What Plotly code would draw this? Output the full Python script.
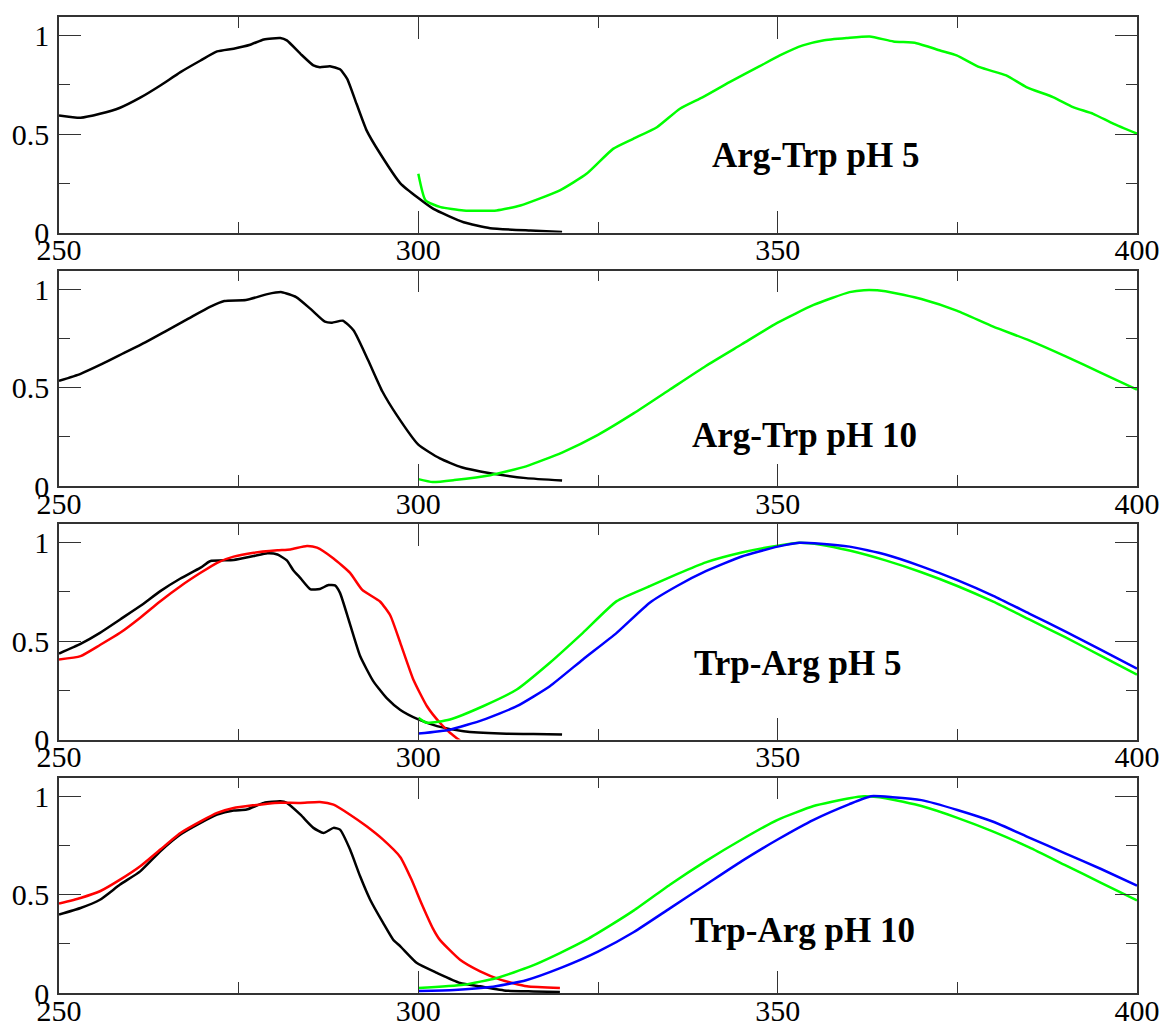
import plotly.graph_objects as go

# ---------------- data ----------------
# Panel 1: Arg-Trp pH 5
p1_abs_x = [250, 253, 255.7, 258.5, 261.3, 264.1, 266.9, 269.7, 272, 274.3, 276.6, 278.5, 280.8, 281.7,
            283.6, 285.4, 286.3, 287.7, 289.1, 290.1, 291.4, 292.8, 294.7, 297.5, 300, 302.1, 306.3, 310,
            315.6, 320]
p1_abs_y = [0.595, 0.583, 0.603, 0.634, 0.685, 0.747, 0.815, 0.874, 0.92, 0.934, 0.954, 0.981, 0.988, 0.976,
            0.908, 0.849, 0.84, 0.845, 0.829, 0.781, 0.654, 0.519, 0.40, 0.25, 0.175, 0.12, 0.052, 0.022,
            0.01, 0.003]
p1_em_x = [300, 301, 303.1, 306.3, 310.9, 314.2, 319.7, 323.4, 327.1, 329.9, 333.2, 336.4, 339.6, 343.3,
           347.5, 350.3, 353.5, 356.3, 359.6, 362.8, 366.1, 369.3, 372.6, 374.9, 378.1, 381.8, 384.6, 388.3,
           391.1, 393.9, 396.7, 400]
p1_em_y = [0.298, 0.163, 0.129, 0.112, 0.112, 0.137, 0.214, 0.298, 0.425, 0.476, 0.535, 0.629, 0.688, 0.764,
           0.845, 0.90, 0.951, 0.976, 0.988, 0.996, 0.971, 0.962, 0.925, 0.90, 0.84, 0.798, 0.739, 0.688,
           0.637, 0.603, 0.553, 0.502]

# Panel 2: Arg-Trp pH 10
p2_abs_x = [250, 253, 256, 259, 262, 265, 268, 271, 273, 276, 279, 281, 283, 285, 287, 288, 289.5, 291,
            293, 295, 297, 300, 303, 306, 310, 315, 320]
p2_abs_y = [0.534, 0.57, 0.62, 0.675, 0.73, 0.79, 0.85, 0.91, 0.94, 0.945, 0.975, 0.985, 0.96, 0.9, 0.835,
            0.83, 0.84, 0.79, 0.64, 0.48, 0.36, 0.21, 0.14, 0.095, 0.065, 0.04, 0.028]
p2_em_x = [300, 302, 305, 310, 315, 320, 325, 330, 335, 340, 345, 350, 355, 360, 362, 365, 370, 375, 380,
           385, 390, 395, 400]
p2_em_y = [0.035, 0.02, 0.03, 0.055, 0.1, 0.17, 0.26, 0.37, 0.49, 0.61, 0.72, 0.83, 0.92, 0.985, 0.995,
           0.99, 0.95, 0.89, 0.81, 0.74, 0.66, 0.575, 0.49]

# Panel 3: Trp-Arg pH 5
p3_abs_x = [250, 253, 255.7, 258.5, 261.3, 264.1, 266.9, 269.7, 271, 274.3, 277.1, 279, 280.4, 281.7,
            282.6, 283.6, 285, 286.3, 287.5, 288.4, 289.1, 290.5, 291.9, 293.7, 295.6, 297.5, 300, 302.6,
            306.3, 311.4, 316, 320]
p3_abs_y = [0.437, 0.486, 0.542, 0.61, 0.678, 0.754, 0.818, 0.873, 0.906, 0.912, 0.932, 0.946, 0.94, 0.91,
            0.86, 0.82, 0.763, 0.765, 0.785, 0.783, 0.745, 0.585, 0.424, 0.298, 0.21, 0.15, 0.102, 0.068,
            0.042, 0.03, 0.028, 0.025]
p3_red_x = [250, 253, 255.7, 258.5, 261.3, 264.1, 266.9, 269.7, 272, 274.3, 277.1, 280.4, 282.2, 284.5,
            285.9, 288.2, 290.5, 292.2, 294.7, 296.1, 297.5, 299.3, 301.2, 303, 304.4, 305.6, 306.5]
p3_red_y = [0.407, 0.424, 0.48, 0.542, 0.619, 0.703, 0.779, 0.847, 0.898, 0.929, 0.949, 0.961, 0.966, 0.983,
            0.975, 0.92, 0.847, 0.76, 0.70, 0.63, 0.49, 0.305, 0.169, 0.085, 0.034, 0.0, -0.03]
p3_em_x = [300, 301.2, 304.4, 309, 313.7, 318.3, 322.9, 327.6, 332.2, 336, 340, 345, 350, 353, 356, 360,
           365, 370, 375, 380, 385, 390, 395, 400]
p3_em_y = [0.11, 0.085, 0.102, 0.169, 0.254, 0.39, 0.542, 0.703, 0.779, 0.84, 0.9, 0.95, 0.985, 1.0, 0.99,
           0.96, 0.91, 0.85, 0.78, 0.70, 0.61, 0.52, 0.425, 0.33]
p3_blue_x = [300, 304.4, 309, 313.7, 318.3, 322.9, 327.6, 332.2, 336, 340, 345, 350, 353, 356, 360, 365,
             370, 375, 380, 385, 390, 395, 400]
p3_blue_y = [0.03, 0.05, 0.10, 0.169, 0.271, 0.407, 0.542, 0.695, 0.78, 0.855, 0.93, 0.98, 1.0, 0.995, 0.98,
             0.94, 0.88, 0.81, 0.73, 0.64, 0.55, 0.455, 0.36]

# Panel 4: Trp-Arg pH 10
p4_abs_x = [250, 253, 255.7, 258.5, 261.3, 264.1, 266.9, 269.7, 272, 274.3, 276.1, 278.5, 280.8, 281.7,
            283.6, 285.4, 286.8, 288.2, 289.1, 290.5, 291.9, 293.3, 295.1, 296.5, 297.5, 299.8, 302.6, 305.8,
            308.6, 312.3, 316, 319.7]
p4_abs_y = [0.399, 0.432, 0.474, 0.551, 0.618, 0.72, 0.805, 0.864, 0.906, 0.927, 0.932, 0.966, 0.974, 0.966,
            0.906, 0.839, 0.813, 0.839, 0.83, 0.729, 0.593, 0.474, 0.356, 0.271, 0.237, 0.152, 0.102, 0.051,
            0.034, 0.012, 0.008, 0.005]
p4_red_x = [250, 253, 255.7, 258.5, 261.3, 264.1, 266.9, 269.7, 272, 274.3, 277.1, 280, 283.6, 286.3, 288.2,
            290.5, 292.8, 295.1, 297.5, 299, 300.5, 302, 303, 305.8, 308.6, 311.4, 315.1, 319.7]
p4_red_y = [0.454, 0.483, 0.517, 0.576, 0.644, 0.729, 0.813, 0.872, 0.915, 0.94, 0.954, 0.966, 0.966, 0.971,
            0.957, 0.906, 0.847, 0.779, 0.69, 0.58, 0.45, 0.33, 0.27, 0.169, 0.11, 0.068, 0.034, 0.025]
p4_em_x = [300, 306.3, 310.9, 315.6, 319.7, 323.4, 327, 330, 335, 340, 345, 350, 355, 360, 362, 365, 370,
           375, 380, 385, 390, 395, 400]
p4_em_y = [0.025, 0.042, 0.076, 0.135, 0.203, 0.271, 0.35, 0.42, 0.55, 0.67, 0.78, 0.88, 0.95, 0.99, 1.0,
           0.99, 0.95, 0.89, 0.82, 0.74, 0.65, 0.56, 0.47]
p4_blue_x = [300, 305, 310, 315, 320, 325, 330, 335, 340, 345, 350, 355, 360, 363, 366, 370, 375, 380, 385,
             390, 395, 400]
p4_blue_y = [0.01, 0.015, 0.03, 0.065, 0.13, 0.21, 0.31, 0.43, 0.55, 0.67, 0.78, 0.88, 0.96, 1.0, 0.995,
             0.98, 0.93, 0.87, 0.79, 0.71, 0.63, 0.545]

panel_labels = ["Arg-Trp pH 5", "Arg-Trp pH 10", "Trp-Arg pH 5", "Trp-Arg pH 10"]
label_pos = [(355.2, 0.39), (353.8, 0.255), (352.7, 0.386), (353.4, 0.32)]

x_ticks = [250, 300, 350, 400]
y_ticks = [0, 0.5, 1]
y_tick_text = ["0", "0.5", "1"]

panels = [
    [(p1_abs_x, p1_abs_y, "black"), (p1_em_x, p1_em_y, "#00ff00")],
    [(p2_abs_x, p2_abs_y, "black"), (p2_em_x, p2_em_y, "#00ff00")],
    [(p3_abs_x, p3_abs_y, "black"), (p3_red_x, p3_red_y, "#ff0000"),
     (p3_em_x, p3_em_y, "#00ff00"), (p3_blue_x, p3_blue_y, "#0000ff")],
    [(p4_abs_x, p4_abs_y, "black"), (p4_red_x, p4_red_y, "#ff0000"),
     (p4_em_x, p4_em_y, "#00ff00"), (p4_blue_x, p4_blue_y, "#0000ff")],
]

# ---------------- figure ----------------
fig = go.Figure()
H = 215.5 / 976.0
G = (1 - 4 * H) / 3
serif = "Liberation Serif, Times New Roman, serif"
axis_col = "#333333"

layout = {}
for i, series in enumerate(panels):
    k = i + 1
    xa = "x" if k == 1 else f"x{k}"
    ya = "y" if k == 1 else f"y{k}"
    for xs, ys, col in series:
        fig.add_trace(go.Scatter(x=xs, y=ys, mode="lines", xaxis=xa, yaxis=ya,
                                 line=dict(color=col, width=2.5, shape="spline", smoothing=0.5),
                                 showlegend=False, hoverinfo="skip"))
    bottom = (3 - i) * (H + G)
    top = min(1.0, bottom + H)
    xkey = "xaxis" if k == 1 else f"xaxis{k}"
    ykey = "yaxis" if k == 1 else f"yaxis{k}"
    layout[xkey] = dict(domain=[0, 1], anchor=ya, range=[250, 400], automargin=False,
                        tickvals=x_ticks, ticktext=[str(v) for v in x_ticks],
                        ticks="inside", ticklen=22, tickwidth=1.3, tickcolor=axis_col,
                        ticklabelstandoff=-10,
                        showline=True, linecolor=axis_col, linewidth=1.5, mirror="ticks",
                        showgrid=False, zeroline=False,
                        tickfont=dict(family=serif, size=30, color="black"),
                        minor=dict(tickvals=[275, 325, 375], ticks="inside", ticklen=11,
                                   tickwidth=1.3, tickcolor=axis_col, showgrid=False))
    layout[ykey] = dict(domain=[bottom, top], anchor=xa, range=[0, 1.095], automargin=False,
                        tickvals=y_ticks, ticktext=y_tick_text,
                        ticks="inside", ticklen=22, tickwidth=1.3, tickcolor=axis_col,
                        ticklabelstandoff=2,
                        showline=True, linecolor=axis_col, linewidth=1.5, mirror="ticks",
                        showgrid=False, zeroline=False,
                        tickfont=dict(family=serif, size=30, color="black"),
                        minor=dict(tickvals=[0.25, 0.75], ticks="inside", ticklen=11,
                                   tickwidth=1.3, tickcolor=axis_col, showgrid=False))
    lx, ly = label_pos[i]
    fig.add_annotation(x=lx, y=ly, xref=xa, yref=ya, text=f"<b>{panel_labels[i]}</b>",
                       showarrow=False, font=dict(family=serif, size=35, color="black"))

fig.update_layout(**layout)
fig.update_layout(width=1165, height=1029, paper_bgcolor="white", plot_bgcolor="white",
                  margin=dict(l=59, r=28, t=17, b=36, autoexpand=False), showlegend=False)

fig.write_html("out.html")
